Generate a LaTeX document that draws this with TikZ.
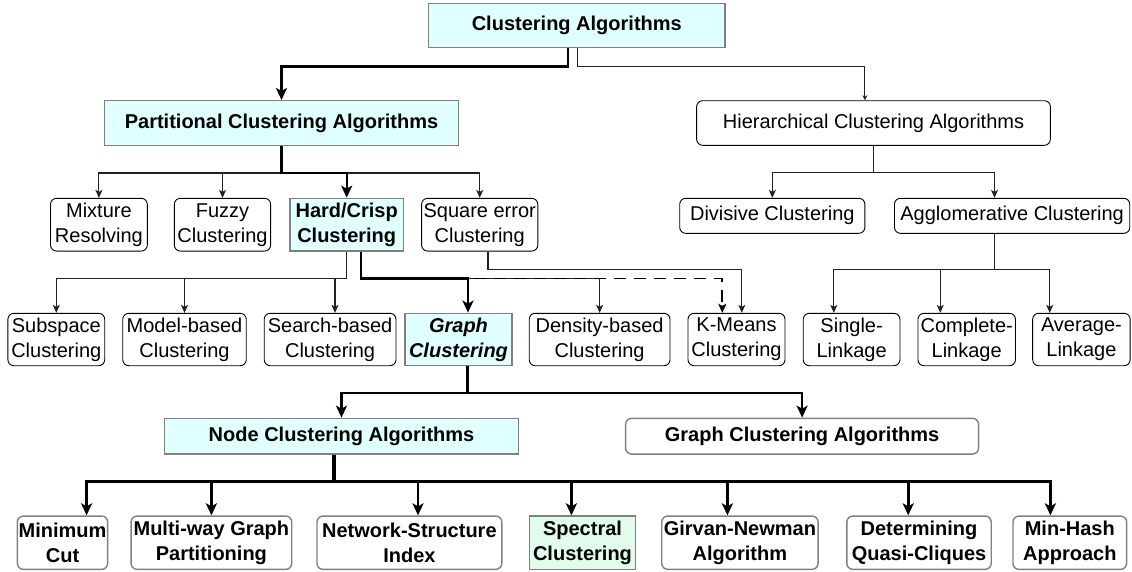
\documentclass[tikz,border=0pt]{standalone}
\usepackage{fontspec}
\setmainfont{Liberation Sans}
\usetikzlibrary{arrows.meta,calc}
\definecolor{cyanfill}{HTML}{E0FFFF}
\definecolor{greenfill}{HTML}{E2FCEC}
\definecolor{boxgray}{HTML}{808080}
\definecolor{linecol}{HTML}{222222}
\begin{document}
\begin{tikzpicture}[x=1pt,y=-1pt,
  box/.style={rectangle, align=center, inner sep=0pt, text=black,
    font=\fontsize{20}{25}\selectfont},
  plain/.style={box, draw=black, rounded corners=6pt, line width=0.9pt, fill=white},
  cyanbox/.style={box, draw=boxgray, line width=1.4pt, fill=cyanfill,
    font=\fontsize{20}{25}\selectfont\bfseries},
  leafbox/.style={box, draw=boxgray, rounded corners=6pt, line width=1.4pt, fill=white,
    font=\fontsize{20}{25}\selectfont\bfseries},
  greenbox/.style={box, draw=boxgray, line width=1.4pt, fill=greenfill,
    font=\fontsize{20}{25}\selectfont\bfseries},
  thinarrow/.style={draw=linecol, line width=1.1pt,
    -{Stealth[length=8pt,width=7pt,inset=2pt]}},
  dasharrow/.style={draw=black, line width=1.8pt, dash pattern=on 12pt off 8pt,
    -{Stealth[length=9pt,width=8pt,inset=2pt]}},
  thickarrow/.style={draw=black, line width=2.4pt,
    -{Stealth[length=12pt,width=11pt,inset=3pt]}},
  bottomarrow/.style={draw=black, line width=2.6pt,
    -{Stealth[length=12pt,width=11pt,inset=3pt]}},
]
\useasboundingbox (0,0) rectangle (1132,571);

% ---- level 0 and 1
\node[cyanbox, minimum width=296.5pt, minimum height=44.4pt] (root) at (576.8,25.5) {Clustering Algorithms};
\node[cyanbox, minimum width=353.7pt, minimum height=44.6pt] (part) at (281.5,123) {Partitional Clustering Algorithms};
\node[plain, minimum width=353.7pt, minimum height=44.6pt] (hier) at (873.5,123) {Hierarchical Clustering Algorithms};

% ---- level 2
\node[plain, minimum width=96.8pt, minimum height=52.7pt] (mix) at (98.9,224.7) {Mixture\\Resolving};
\node[plain, minimum width=96.3pt, minimum height=52.7pt] (fuzzy) at (222.5,224.7) {Fuzzy\\Clustering};
\node[cyanbox, minimum width=113.7pt, minimum height=52.7pt] (hard) at (346.7,224.7) {Hard/Crisp\\Clustering};
\node[plain, minimum width=116.2pt, minimum height=52.7pt] (sqerr) at (479.7,224.7) {Square error\\Clustering};
\node[plain, minimum width=185.2pt, minimum height=35pt] (div) at (772.3,215.8) {Divisive Clustering};
\node[plain, minimum width=235.3pt, minimum height=35pt] (agg) at (1012.1,215.8) {Agglomerative Clustering};

% ---- level 3
\node[plain, minimum width=96.8pt, minimum height=52.4pt] (sub) at (56.3,339.5) {Subspace\\Clustering};
\node[plain, minimum width=123.5pt, minimum height=52.4pt] (model) at (184.5,339.5) {Model-based\\Clustering};
\node[plain, minimum width=131.8pt, minimum height=52.4pt] (search) at (330.1,339.5) {Search-based\\Clustering};
\node[cyanbox, minimum width=106.9pt, minimum height=52.4pt, font=\fontsize{20}{25}\selectfont\bfseries\itshape] (graph) at (458.5,339.5) {Graph\\Clustering};
\node[plain, minimum width=140.8pt, minimum height=52.4pt] (dens) at (599.6,339.5) {Density-based\\Clustering};
\node[plain, minimum width=97pt, minimum height=52.4pt] (kmeans) at (736.5,339.5) {K-Means\\Clustering};
\node[plain, minimum width=96.7pt, minimum height=52.4pt] (single) at (851.6,339.5) {Single-\\Linkage};
\node[plain, minimum width=97.5pt, minimum height=52.4pt] (complete) at (966.7,339.5) {Complete-\\Linkage};
\node[plain, minimum width=97.5pt, minimum height=52.4pt] (average) at (1081.4,339.5) {Average-\\Linkage};

% ---- level 4
\node[cyanbox, minimum width=354.5pt, minimum height=35.7pt] (nodeclu) at (341.5,436.2) {Node Clustering Algorithms};
\node[leafbox, minimum width=353pt, minimum height=35.7pt] (gca) at (802.1,436.2) {Graph Clustering Algorithms};

% ---- level 5
\node[leafbox, minimum width=90.3pt, minimum height=53.3pt] (mincut) at (62.5,542.7) {Minimum\\Cut};
\node[leafbox, minimum width=160.7pt, minimum height=53.3pt] (multi) at (211.4,542.7) {Multi-way Graph\\Partitioning};
\node[leafbox, minimum width=184.8pt, minimum height=53.3pt] (nsi) at (409.4,542.7) {Network-Structure\\Index};
\node[greenbox, minimum width=106.5pt, minimum height=53.3pt] (spectral) at (582.5,542.7) {Spectral\\Clustering};
\node[leafbox, minimum width=156.3pt, minimum height=53.3pt] (girvan) at (739.9,542.7) {Girvan-Newman\\Algorithm};
\node[leafbox, minimum width=144.4pt, minimum height=53.3pt] (quasi) at (919,542.7) {Determining\\Quasi-Cliques};
\node[leafbox, minimum width=113.7pt, minimum height=53.3pt] (minhash) at (1069.8,542.7) {Min-Hash\\Approach};

% ---- connectors from the root
\draw[thinarrow, -{Stealth[length=5pt,width=5pt,inset=1.5pt]}] (root.south -| 577.6,0) -- ++(0,18) -| (hier.north -| 864.9,0);
\draw[thickarrow] (root.south -| 568,0) -- ++(0,18) -| (part.north);

% ---- partitional branches
\draw[thinarrow] (part.south) -- ++(0,27) -| (mix.north);
\draw[thinarrow] (part.south) -- ++(0,27) -| (fuzzy.north);
\draw[thinarrow] (part.south) -- ++(0,27) -| (sqerr.north);
\draw[thickarrow] (part.south) -- ++(0,27) -| (hard.north);

% ---- hierarchical branches
\draw[thinarrow] (hier.south) -- ++(0,27) -| (div.north);
\draw[thinarrow] (hier.south) -- ++(0,27) -| (agg.north -| 994.5,0);

% ---- hard/crisp branches
\draw[thinarrow] (hard.south -| 346.5,0) -- ++(0,26.7) -| (sub.north);
\draw[thinarrow] (hard.south -| 346.5,0) -- ++(0,26.7) -| (model.north);
\draw[thinarrow] (hard.south -| 346.5,0) -- ++(0,26.7) -| (search.north -| 335,0);
\draw[thinarrow] (hard.south -| 361,0) -- ++(0,26.7) -| (dens.north);
\draw[dasharrow] (hard.south -| 361,0) -- ++(0,26.7) -| (kmeans.north -| 722.3,0);
\draw[thickarrow] (hard.south -| 361,0) -- ++(0,26.7) -| (graph.north -| 468,0);
\draw[thinarrow] (sqerr.south -| 488,0) -- ++(0,18) -| (kmeans.north -| 741.8,0);

% ---- agglomerative branches
\draw[thinarrow] (agg.south -| 994.5,0) -- ++(0,35.7) -| (single.north -| 833.8,0);
\draw[thinarrow] (agg.south -| 994.5,0) -- ++(0,35.7) -| (complete.north -| 940.3,0);
\draw[thinarrow] (agg.south -| 994.5,0) -- ++(0,35.7) -| (average.north -| 1049.7,0);

% ---- graph clustering branches
\draw[thickarrow] (graph.south -| 467.3,0) -- ++(0,26.8) -| (nodeclu.north);
\draw[thickarrow] (graph.south -| 467.3,0) -- ++(0,26.8) -| (gca.north);

% ---- node clustering algorithms
\draw[line width=4pt] (nodeclu.south -| 334,0) -- ++(0,26.7);
\draw[bottomarrow] (nodeclu.south -| 334,0) -- ++(0,26.7) -| (mincut.north -| 86.6,0);
\draw[bottomarrow] (nodeclu.south -| 334,0) -- ++(0,26.7) -| (multi.north);
\draw[bottomarrow] (nodeclu.south -| 334,0) -- ++(0,26.7) -| (nsi.north -| 418,0);
\draw[bottomarrow] (nodeclu.south -| 334,0) -- ++(0,26.7) -| (spectral.north -| 571.4,0);
\draw[bottomarrow] (nodeclu.south -| 334,0) -- ++(0,26.7) -| (girvan.north -| 727.4,0);
\draw[bottomarrow] (nodeclu.south -| 334,0) -- ++(0,26.7) -| (quasi.north -| 908.2,0);
\draw[bottomarrow] (nodeclu.south -| 334,0) -- ++(0,26.7) -| (minhash.north -| 1050.4,0);
\end{tikzpicture}
\end{document}
